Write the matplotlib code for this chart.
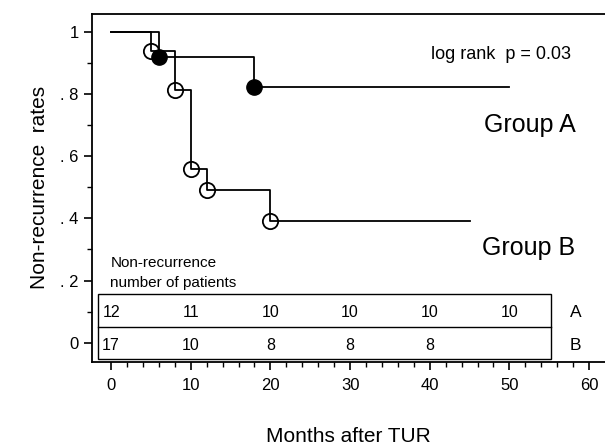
import matplotlib
matplotlib.use('Agg')
import matplotlib.pyplot as plt
from matplotlib.patches import Rectangle

plt.rcParams['font.family'] = ['Liberation Sans', 'DejaVu Sans']

# Kaplan-Meier 곡선 데이터
a_time = [0, 6, 18, 50]
a_rate = [1.0, 0.917, 0.821, 0.821]
a_mark_time = [6, 18]
a_mark_rate = [0.917, 0.821]

b_time = [0, 5, 8, 10, 12, 20, 45]
b_rate = [1.0, 0.938, 0.813, 0.558, 0.490, 0.393, 0.393]
b_mark_time = [5, 8, 10, 12, 20]
b_mark_rate = [0.938, 0.813, 0.558, 0.490, 0.393]

# 환자 수 표
table_months = [0, 10, 20, 30, 40, 50]
n_a = ['12', '11', '10', '10', '10', '10']
n_b = ['17', '10', '8', '8', '8', '']

y_ticks = [0, 0.2, 0.4, 0.6, 0.8, 1.0]
y_ticklabels = ['0', '. 2', '. 4', '. 6', '. 8', '1']
x_ticks = [0, 10, 20, 30, 40, 50, 60]

fig = plt.figure(figsize=(6.05, 4.48), dpi=100)
ax = fig.add_axes([0.152, 0.193, 0.848, 0.776])

ax.step(a_time, a_rate, where='post', color='black', lw=1.3)
ax.plot(a_mark_time, a_mark_rate, 'o', color='black', markersize=11)
ax.step(b_time, b_rate, where='post', color='black', lw=1.3)
ax.plot(b_mark_time, b_mark_rate, 'o', markerfacecolor='none',
        markeredgecolor='black', markeredgewidth=1.3, markersize=11)

ax.set_xlim(-2.4, 62)
ax.set_ylim(-0.06, 1.057)

ax.set_xticks(x_ticks)
ax.set_xticks(range(0, 62, 2), minor=True)
ax.set_yticks(y_ticks)
ax.set_yticklabels(y_ticklabels)
ax.set_yticks([0.1, 0.3, 0.5, 0.7, 0.9], minor=True)
ax.tick_params(axis='both', which='major', labelsize=12, width=1.2, length=6)
ax.tick_params(axis='both', which='minor', width=1.0, length=3.5)
ax.tick_params(axis='x', pad=6)

ax.spines['right'].set_visible(False)
for s in ['left', 'top', 'bottom']:
    ax.spines[s].set_linewidth(1.3)

ax.set_xlabel('Months after TUR', fontsize=15, labelpad=24)
ax.set_ylabel('Non-recurrence  rates', fontsize=15, labelpad=8)

ax.text(57.7, 0.925, 'log rank  p = 0.03', fontsize=13, ha='right', va='center')
ax.text(58.3, 0.70, 'Group A', fontsize=18, ha='right', va='center')
ax.text(58.3, 0.305, 'Group B', fontsize=18, ha='right', va='center')

ax.text(-0.1, 0.257, 'Non-recurrence', fontsize=11, ha='left', va='center')
ax.text(-0.1, 0.193, 'number of patients', fontsize=11, ha='left', va='center')

# 표 테두리
ax.add_patch(Rectangle((-1.6, -0.051), 56.8, 0.208, fill=False, lw=1.0,
                       edgecolor='black'))
ax.plot([-1.6, 55.2], [0.051, 0.051], color='black', lw=1.0)

for m, va, vb in zip(table_months, n_a, n_b):
    ax.text(m, 0.098, va, fontsize=11.5, ha='center', va='center')
    ax.text(m, -0.010, vb, fontsize=11.5, ha='center', va='center')
ax.text(58.3, 0.098, 'A', fontsize=12.5, ha='center', va='center')
ax.text(58.3, -0.010, 'B', fontsize=12.5, ha='center', va='center')

fig.savefig('out.png', dpi=100)
